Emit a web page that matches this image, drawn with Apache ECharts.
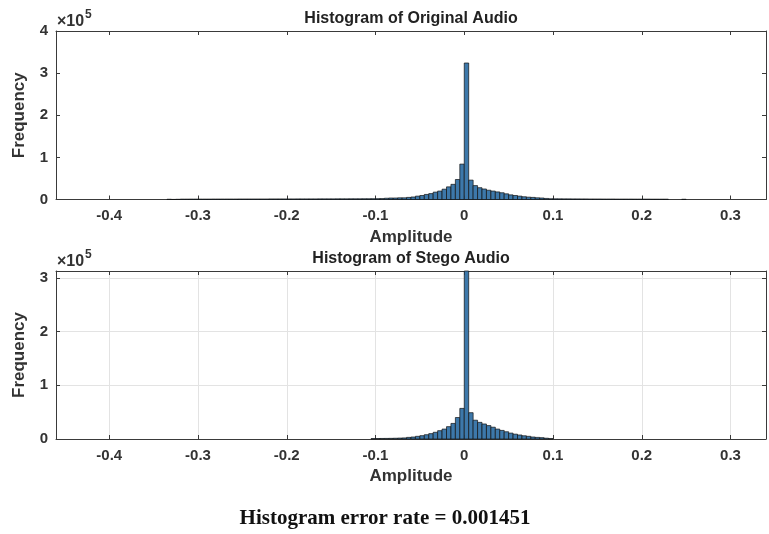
<!DOCTYPE html>
<html>
<head>
<meta charset="utf-8">
<script src="https://cdn.jsdelivr.net/npm/echarts@6/dist/echarts.min.js"></script>
<style>html,body{margin:0;padding:0;background:#fff}#c{width:769px;height:534px}</style>
</head>
<body>
<div id="c"></div>
<script>
// ---- data (counts per 0.005-wide bin) ----
const binWidth = 0.005;
const xTickLabels = ['-0.4', '-0.3', '-0.2', '-0.1', '0', '0.1', '0.2', '0.3'];
const origTitle = 'Histogram of Original Audio';
const stegoTitle = 'Histogram of Stego Audio';
const footerText = 'Histogram error rate = 0.001451';

// Original audio: first bin starts at -0.335
const origStart = -0.335;
const origCounts = [
  600, 200, 500, 900, 900, 1000, 1000, 1000, 1000, 1000,
  1100, 1100, 1100, 1100, 1100, 1100, 1200, 1200, 1200, 1200,
  1200, 1200, 1200, 1300, 1300, 1300, 1300, 1300, 1300, 1400,
  1400, 1400, 1400, 1400, 1500, 1500, 1500, 1500, 1600, 1600,
  1600, 1700, 1700, 1700, 1800, 1800, 1900, 2000, 2200,
  // -0.09 .. -0.005
  3000, 3500, 3500, 4000, 4000, 5000, 6000, 8000, 9500, 12000,
  14000, 17500, 20000, 24500, 30000, 36000, 47500, 84000,
  // 0 .. 0.09
  324000, 46000, 33000, 28000, 25000, 22000, 20000, 18000, 16000, 13500,
  11000, 9500, 8000, 6500, 5500, 5000, 4000, 3500, 2500,
  // 0.095 .. 0.245
  1800, 1700, 1600, 1500, 1500, 1400, 1400, 1300, 1300, 1200,
  1200, 1200, 1100, 1100, 1100, 1000, 1000, 1000, 1000, 900,
  900, 900, 900, 800, 800, 800, 800, 0, 0, 0, 600
];

// Stego audio: first bin starts at -0.105
const stegoStart = -0.105;
const stegoCounts = [
  800, 900, 1000, 1100, 1200, 1400, 1700, 2000,
  // -0.065 .. -0.005
  3000, 3700, 5000, 6200, 8000, 10000, 12500, 15500, 18500, 23000,
  29000, 40000, 57000,
  // 0 .. 0.095
  330000, 49000, 35000, 31000, 28000, 25000, 22000, 18500, 16000, 13500,
  11000, 9000, 7500, 6000, 5000, 3700, 3000, 2500, 1500, 800
];

function toBins(start, counts) {
  return counts.map((c, i) => {
    const x0 = +(start + i * binWidth).toFixed(4);
    const x1 = +(x0 + binWidth).toFixed(4);
    return [x0, x1, c];
  });
}

const BAR_FILL = '#3d78aa';
function renderBar(params, api) {
  const x0 = api.value(0), x1 = api.value(1), y = api.value(2);
  if (!y) return null;
  const p0 = api.coord([x0, 0]);
  const p1 = api.coord([x1, y]);
  const cs = params.coordSys;
  const rect = echarts.graphic.clipRectByRect(
    { x: p0[0], y: p1[1], width: p1[0] - p0[0], height: p0[1] - p1[1] },
    { x: cs.x, y: cs.y, width: cs.width, height: cs.height + 1 }
  );
  if (!rect) return null;
  return { type: 'rect', shape: rect, style: { fill: BAR_FILL, stroke: '#111', lineWidth: 0.7 } };
}

const chart = echarts.init(document.getElementById('c'), null, { renderer: 'canvas' });
const AX = '#3a3a3a';
const labelFont = { fontFamily: 'Liberation Sans', fontWeight: 'bold', fontSize: 15, color: '#333' };
const nameFont = { fontFamily: 'Liberation Sans', fontWeight: 'bold', fontSize: 17, color: '#333' };

function xAxes(gridIndex, grid) {
  return [
    {
      type: 'value', gridIndex, min: -0.46, max: 0.34, splitNumber: 8, position: 'bottom',
      name: 'Amplitude', nameLocation: 'middle', nameGap: 29,
      nameTextStyle: nameFont,
      axisLine: { show: true, onZero: false, lineStyle: { color: AX, width: 1 } },
      axisTick: { show: true, inside: true, length: 4, lineStyle: { color: AX } },
      axisLabel: Object.assign({ margin: 9, showMinLabel: false, showMaxLabel: false,
        formatter: v => { const s = (Math.round(v * 10) / 10).toString(); return xTickLabels.indexOf(s) >= 0 ? s : ''; } }, labelFont),
      splitLine: { show: grid, lineStyle: { color: '#e3e3e3', width: 1 } }
    },
    {
      type: 'value', gridIndex, min: -0.46, max: 0.34, splitNumber: 8, position: 'top',
      axisLine: { show: true, onZero: false, lineStyle: { color: AX, width: 1 } },
      axisTick: { show: true, inside: true, length: 4, lineStyle: { color: AX } },
      axisLabel: { show: false }, splitLine: { show: false }
    }
  ];
}
function yAxes(gridIndex, max, grid) {
  return [
    {
      type: 'value', gridIndex, min: 0, max, interval: 100000, position: 'left',
      name: 'Frequency', nameLocation: 'middle', nameGap: 28, nameRotate: 90,
      nameTextStyle: nameFont,
      axisLine: { show: true, onZero: false, lineStyle: { color: AX, width: 1 } },
      axisTick: { show: true, inside: true, length: 4, lineStyle: { color: AX } },
      axisLabel: Object.assign({ margin: 8, showMaxLabel: max % 100000 === 0,
        formatter: v => (v % 100000 === 0 ? String(v / 100000) : '') }, labelFont),
      splitLine: { show: grid, lineStyle: { color: '#e3e3e3', width: 1 } }
    },
    {
      type: 'value', gridIndex, min: 0, max, interval: 100000, position: 'right',
      axisLine: { show: true, onZero: false, lineStyle: { color: AX, width: 1 } },
      axisTick: { show: true, inside: true, length: 4, lineStyle: { color: AX } },
      axisLabel: { show: false }, splitLine: { show: false }
    }
  ];
}

function titleText(text, y) {
  return { type: 'text', x: 411, y, style: { text, textAlign: 'center', textVerticalAlign: 'middle',
    font: 'bold 16px "Liberation Sans"', fill: '#222' } };
}
function expText(y) {
  return [
    { type: 'text', x: 57, y, style: { text: '×10', textVerticalAlign: 'middle', font: 'bold 16px "Liberation Sans"', fill: '#333' } },
    { type: 'text', x: 85, y: y - 7, style: { text: '5', textVerticalAlign: 'middle', font: 'bold 12px "Liberation Sans"', fill: '#333' } }
  ];
}

chart.setOption({
  animation: false,
  backgroundColor: '#fff',
  grid: [
    { left: 56, top: 31, width: 710, height: 168.5 },
    { left: 56, top: 271, width: 710, height: 168 }
  ],
  xAxis: [...xAxes(0, false), ...xAxes(1, true)],
  yAxis: [...yAxes(0, 400000, false), ...yAxes(1, 313000, true)],
  series: [
    { type: 'custom', xAxisIndex: 0, yAxisIndex: 0, renderItem: renderBar,
      encode: { x: [0, 1], y: 2 }, data: toBins(origStart, origCounts) },
    { type: 'custom', xAxisIndex: 2, yAxisIndex: 2, renderItem: renderBar,
      encode: { x: [0, 1], y: 2 }, data: toBins(stegoStart, stegoCounts) }
  ],
  graphic: [
    titleText(origTitle, 19),
    titleText(stegoTitle, 259),
    ...expText(22),
    ...expText(262),
    { type: 'text', x: 385, y: 519, style: { text: footerText, textAlign: 'center', textVerticalAlign: 'middle',
      font: 'bold 21px "Liberation Serif"', fill: '#111' } }
  ]
});
</script>
</body>
</html>
